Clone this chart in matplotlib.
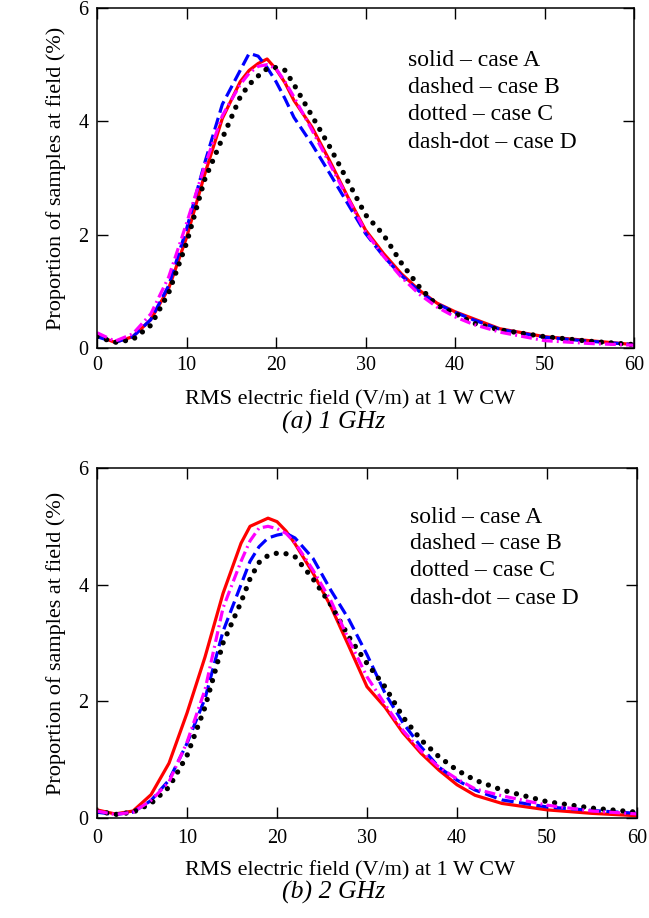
import matplotlib
matplotlib.use("Agg")
from matplotlib import pyplot as plt

plt.rcParams['font.family'] = ['Liberation Serif', 'DejaVu Serif']

field = [0, 2, 4, 6, 8, 10, 12, 14, 16, 17, 18, 19, 20, 21, 22, 24, 26, 28,
         30, 32, 34, 36, 38, 40, 42, 45, 50, 55, 60]

# (a) 1 GHz
a1_caseA = [0.22, 0.10, 0.20, 0.50, 1.05, 1.95, 3.05, 4.05, 4.70, 4.90, 5.02, 5.10, 4.92, 4.68, 4.37,
            3.90, 3.30, 2.67, 2.08, 1.67, 1.31, 1.02, 0.79, 0.64, 0.52, 0.34, 0.20, 0.13, 0.06]
a1_caseB = [0.20, 0.10, 0.20, 0.50, 1.10, 2.10, 3.25, 4.30, 4.90, 5.20, 5.15, 4.95, 4.70, 4.40, 4.07,
            3.60, 3.08, 2.55, 2.02, 1.62, 1.28, 1.00, 0.78, 0.63, 0.50, 0.33, 0.19, 0.12, 0.06]
a1_caseC = [0.20, 0.10, 0.15, 0.40, 0.97, 1.85, 2.96, 3.70, 4.43, 4.65, 4.80, 4.93, 4.95, 4.90, 4.65,
            4.10, 3.55, 2.95, 2.35, 2.00, 1.50, 1.08, 0.75, 0.61, 0.44, 0.32, 0.20, 0.12, 0.06]
a1_caseD = [0.27, 0.12, 0.25, 0.60, 1.25, 2.20, 3.20, 4.10, 4.65, 4.85, 4.97, 5.00, 4.93, 4.70, 4.43,
            3.85, 3.25, 2.65, 2.05, 1.62, 1.25, 0.95, 0.72, 0.55, 0.42, 0.28, 0.13, 0.08, 0.05]

# (b) 2 GHz
b2_caseA = [0.14, 0.07, 0.12, 0.40, 0.94, 1.80, 2.76, 3.85, 4.71, 5.00, 5.07, 5.14, 5.08, 4.92, 4.70,
            4.20, 3.62, 2.94, 2.25, 1.90, 1.46, 1.11, 0.82, 0.57, 0.39, 0.25, 0.14, 0.08, 0.04]
b2_caseB = [0.10, 0.06, 0.10, 0.30, 0.65, 1.28, 2.05, 3.20, 4.00, 4.40, 4.65, 4.80, 4.85, 4.88, 4.80,
            4.45, 3.90, 3.40, 2.80, 2.14, 1.63, 1.22, 0.87, 0.65, 0.48, 0.31, 0.19, 0.13, 0.08]
b2_caseC = [0.12, 0.06, 0.10, 0.25, 0.53, 1.07, 1.90, 3.00, 3.70, 4.10, 4.38, 4.50, 4.54, 4.53, 4.48,
            4.10, 3.65, 3.10, 2.65, 2.25, 1.73, 1.34, 1.05, 0.82, 0.65, 0.48, 0.28, 0.17, 0.10]
b2_caseD = [0.12, 0.06, 0.10, 0.30, 0.62, 1.30, 2.20, 3.60, 4.40, 4.75, 4.97, 5.00, 4.96, 4.88, 4.72,
            4.25, 3.72, 3.05, 2.42, 1.95, 1.50, 1.15, 0.87, 0.67, 0.50, 0.38, 0.22, 0.12, 0.07]

xticks = [0, 10, 20, 30, 40, 50, 60]
yticks = [0, 2, 4, 6]
key_lines = ["solid \u2013 case A", "dashed \u2013 case B", "dotted \u2013 case C", "dash-dot \u2013 case D"]
xlabel = "RMS electric field (V/m) at 1 W CW"
ylabel = "Proportion of samples at field (%)"

TICK_FS = 14.5
LAB_FS = 16
KEY_FS = 17


def panel(ax, A, B, C, D, key_y, xpad):
    ax.plot(field, A, color='#ff0000', lw=2.3, solid_joinstyle='round')
    ax.plot(field, B, color='#0000ff', lw=2.3, linestyle=(0, (3.8, 1.7)))
    ax.plot(field, C, color='black', lw=3.8, linestyle=(0, (0.01, 1.85)),
            dash_capstyle='round')
    ax.plot(field, D, color='#ff00ff', lw=2.3, linestyle=(0, (3.4, 1.3, 0.6, 1.3)))
    ax.set_xlim(0, 60)
    ax.set_ylim(0, 6)
    ax.set_xticks(xticks)
    ax.set_yticks(yticks)
    ax.tick_params(direction='in', top=True, right=True, length=8, width=1,
                   labelsize=TICK_FS)
    ax.tick_params(axis='x', pad=xpad)
    ax.tick_params(axis='y', pad=6)
    for s in ax.spines.values():
        s.set_linewidth(1.1)
    for txt, yy in zip(key_lines, key_y):
        ax.text(0.579, yy, txt, transform=ax.transAxes, fontsize=KEY_FS,
                va='center', ha='left')
    ax.set_ylabel(ylabel, fontsize=LAB_FS, labelpad=9)


fig = plt.figure(figsize=(6.49, 9.18), dpi=100)
ax1 = fig.add_axes([0.1495, 0.6209, 0.8275, 0.3704])
ax2 = fig.add_axes([0.1495, 0.1089, 0.832, 0.3813])

panel(ax1, a1_caseA, a1_caseB, a1_caseC, a1_caseD, [0.847, 0.766, 0.686, 0.604], 6)
panel(ax2, b2_caseA, b2_caseB, b2_caseC, b2_caseD, [0.860, 0.785, 0.708, 0.628], 8)

fig.text(0.54, 1 - 400 / 918, xlabel, ha='center', va='center', fontsize=LAB_FS)
fig.text(0.514, 1 - 422 / 918, "(a) 1 GHz", ha='center', va='center', fontsize=18.5,
         style='italic')
fig.text(0.54, 1 - 871 / 918, xlabel, ha='center', va='center', fontsize=LAB_FS)
fig.text(0.514, 1 - 892 / 918, "(b) 2 GHz", ha='center', va='center', fontsize=18.5,
         style='italic')

fig.savefig("out.png", dpi=100)
